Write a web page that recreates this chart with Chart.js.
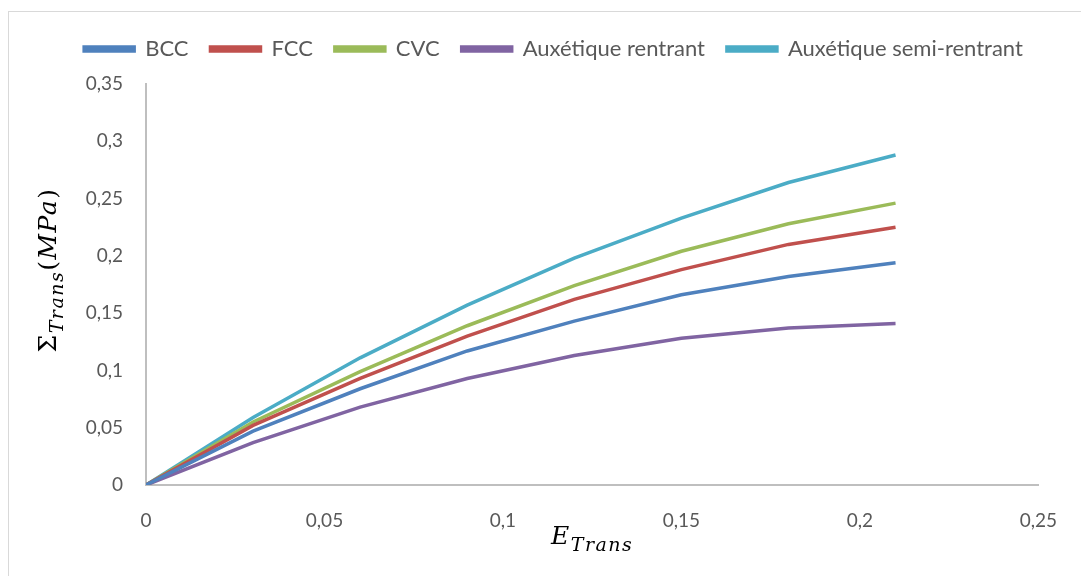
<!DOCTYPE html>
<html>
<head>
<meta charset="utf-8">
<script src="https://cdn.jsdelivr.net/npm/chart.js@4.4.1/dist/chart.umd.min.js"></script>
<style>
  html, body { margin: 0; padding: 0; background: #fff; overflow: hidden; }
  #frame { position: absolute; left: 8px; top: 11px; width: 2000px; height: 2000px; border: 1px solid #d9d9d9; }
  #wrap { position: absolute; left: 0; top: 0; width: 1081px; height: 576px; }
</style>
</head>
<body>
<div id="frame"></div>
<div id="wrap"><canvas id="chart" width="1081" height="576"></canvas></div>
<script>
const strain = [0, 0.03, 0.06, 0.09, 0.12, 0.15, 0.18, 0.21];
const bcc = [0, 0.047, 0.084, 0.117, 0.143, 0.166, 0.182, 0.194];
const fcc = [0, 0.052, 0.093, 0.130, 0.162, 0.188, 0.210, 0.225];
const cvc = [0, 0.055, 0.099, 0.139, 0.174, 0.204, 0.228, 0.246];
const auxRentrant = [0, 0.037, 0.068, 0.093, 0.113, 0.128, 0.137, 0.141];
const auxSemi = [0, 0.059, 0.111, 0.157, 0.198, 0.233, 0.264, 0.288];

const names = ["BCC", "FCC", "CVC", "Auxétique rentrant", "Auxétique semi-rentrant"];
const colors = ["#4f81bd", "#c0504d", "#9bbb59", "#8064a2", "#4bacc6"];
const series = [bcc, fcc, cvc, auxRentrant, auxSemi];

const fmt = v => String(Math.round(v * 100) / 100).replace(".", ",");

// draw a run of text pieces (normal + subscript) starting at x
function drawRun(ctx, parts, x, y) {
  parts.forEach(p => {
    ctx.font = p.font;
    ctx.fillText(p.t, x, y + (p.dy || 0));
    x += ctx.measureText(p.t).width;
  });
}
function runWidth(ctx, parts) {
  let w = 0;
  parts.forEach(p => { ctx.font = p.font; w += ctx.measureText(p.t).width; });
  return w;
}

const axisTitles = {
  id: "axisTitles",
  afterDraw(chart) {
    const ctx = chart.ctx;
    const area = chart.chartArea;
    ctx.save();
    ctx.fillStyle = "#000";
    ctx.textBaseline = "alphabetic";
    ctx.textAlign = "left";
    ctx.letterSpacing = "1.5px";

    const big = "italic 25px 'DejaVu Serif'";
    const up = "25px 'DejaVu Serif'";
    const sub = "italic 19px 'DejaVu Serif'";
    const xParts = [{ t: "E", font: big }, { t: "Trans", font: sub, dy: 7 }];
    const xw = runWidth(ctx, xParts);
    drawRun(ctx, xParts, (area.left + area.right) / 2 - xw / 2, 544);

    const yParts = [
      { t: "Σ", font: up },
      { t: "Trans", font: sub, dy: 7 },
      { t: "(", font: up },
      { t: "MPa", font: big },
      { t: ")", font: up }
    ];
    const yw = runWidth(ctx, yParts);
    ctx.translate(56, 270);
    ctx.rotate(-Math.PI / 2);
    drawRun(ctx, yParts, -yw / 2, 0);
    ctx.restore();
  }
};

const legendHeight = {
  id: "legendHeight",
  beforeInit(chart) {
    const fit = chart.legend.fit;
    chart.legend.fit = function () {
      fit.bind(chart.legend)();
      this.height = 68;
    };
  }
};

new Chart(document.getElementById("chart"), {
  type: "line",
  data: {
    datasets: series.map((s, i) => ({
      label: names[i],
      data: s.map((v, j) => ({ x: strain[j], y: v })),
      borderColor: colors[i],
      backgroundColor: colors[i],
      borderWidth: 3.5,
      pointRadius: 0,
      tension: 0,
      fill: false
    }))
  },
  options: {
    responsive: false,
    animation: false,
    layout: { padding: { left: 60, right: 34, top: 16, bottom: 0 } },
    plugins: {
      tooltip: { enabled: false },
      legend: {
        position: "top",
        labels: {
          boxWidth: 50,
          boxHeight: 4,
          padding: 22,
          color: "#595959",
          font: { family: "Lato", size: 22 }
        }
      }
    },
    scales: {
      x: {
        type: "linear",
        min: 0,
        max: 0.25,
        ticks: { stepSize: 0.05, callback: fmt, color: "#595959", font: { family: "Lato", size: 19 }, padding: 24, maxRotation: 0 },
        grid: { display: false, drawTicks: false },
        border: { color: "#bfbfbf", width: 2 },
        afterFit(s) { s.height = 91; }
      },
      y: {
        min: 0,
        max: 0.35,
        ticks: { stepSize: 0.05, callback: fmt, color: "#595959", font: { family: "Lato", size: 19 }, padding: 23 },
        grid: { display: false, drawTicks: false },
        border: { color: "#bfbfbf", width: 2 },
        afterFit(s) { s.width = 86; }
      }
    }
  },
  plugins: [axisTitles, legendHeight]
});
</script>
</body>
</html>
